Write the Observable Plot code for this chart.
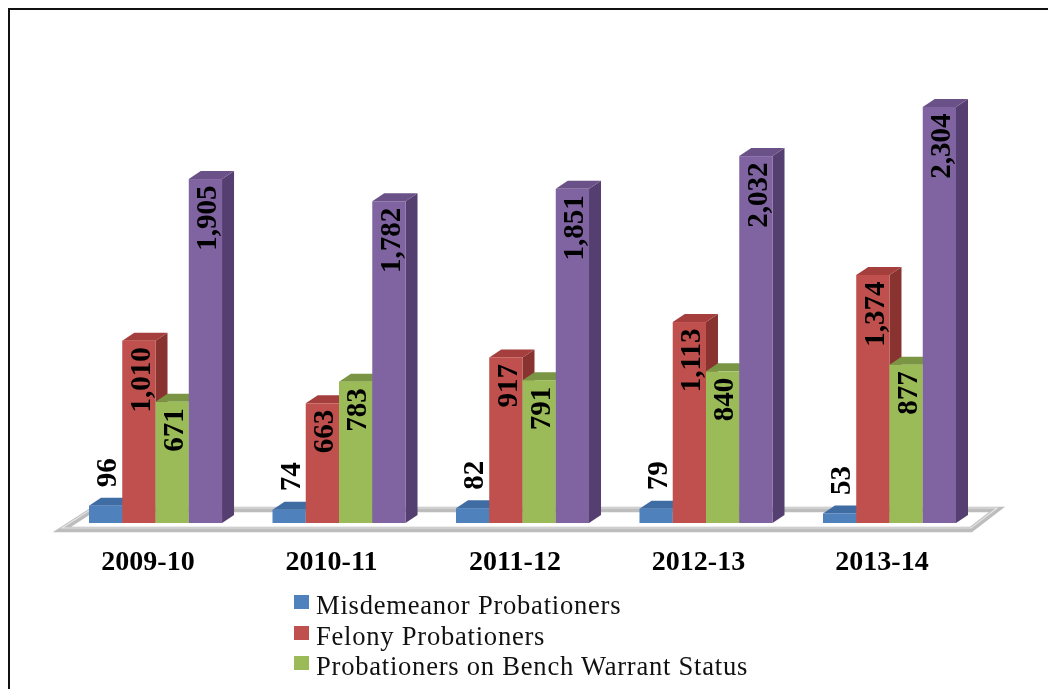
<!DOCTYPE html>
<html><head><meta charset="utf-8">
<script src="https://cdn.jsdelivr.net/npm/d3@7"></script>
<script src="https://cdn.jsdelivr.net/npm/@observablehq/plot@0.6"></script>
<style>
html,body{margin:0;padding:0;background:#fff;overflow:hidden}
#frame{position:absolute;left:8px;top:8px;width:1040px;height:681px;border-left:2px solid #111;border-top:2px solid #111;box-sizing:border-box}
#chart{position:absolute;left:0;top:0;filter:blur(.45px)}
#legend{position:absolute;left:294px;top:590px;font-family:"Liberation Serif",serif;font-size:26.6px;line-height:30.5px;color:#111;letter-spacing:.75px;filter:blur(.35px)}
#legend div{display:flex;align-items:center;white-space:nowrap}
#legend i{display:inline-block;width:15px;height:14px;margin-right:7px;position:relative;top:-3px}
</style></head><body>
<div id="frame"></div><div id="chart"></div><div id="legend"></div>
<script>
const years = ["2009-10","2010-11","2011-12","2012-13","2013-14"];
const misdemeanor = [96,74,82,79,53];
const felony = [1010,663,917,1113,1374];
const benchWarrant = [671,783,791,840,877];
const fourthSeries = [1905,1782,1851,2032,2304];
const seriesNames = ["Misdemeanor Probationers","Felony Probationers","Probationers on Bench Warrant Status"];
const colors = {front:["#4f81bd","#c0504d","#9bbb59","#8064a2"],
                top:["#3f6ca3","#a53f3d","#7a9644","#6a5288"],
                side:["#375d8c","#893331","#6a8339","#543f70"]};
const values = [misdemeanor,felony,benchWarrant,fourthSeries];

const barSpan = 0.725;           // share of a year's step taken by its four bars
const rows = values.flatMap((vals,s)=>vals.map((v,i)=>({
  s, v, year:years[i], x1:i+s*barSpan/4, x2:i+(s+1)*barSpan/4, xc:i+(s+.5)*barSpan/4
})));
const depthX = 12, depthY = 8;

function polygons(kind){
  return (index,scales,channels,dims,ctx,next)=>{
    const g = next(index,scales,channels,dims,ctx);
    d3.select(g).selectAll("rect").each(function(){
      const r=d3.select(this), x=+r.attr("x"), y=+r.attr("y"), w=+r.attr("width"), h=+r.attr("height");
      const pts = kind==="top"
        ? [[x,y],[x+depthX,y-depthY],[x+w+depthX,y-depthY],[x+w,y]]
        : [[x+w,y],[x+w+depthX,y-depthY],[x+w+depthX,y+h-depthY],[x+w,y+h]];
      const p=document.createElementNS("http://www.w3.org/2000/svg","polygon");
      p.setAttribute("points",pts.join(" "));
      p.setAttribute("fill",r.attr("fill"));
      this.replaceWith(p);
    });
    return g;
  };
}

const floor = (index,{x,y},values,dims)=>{
  const y0=y(0), x0=x(0), x1=x(4+barSpan);
  const pts=[[x0-27,y0+6.5],[x1+15,y0+6.5],[x1+41,y0-13.5],[x0+4,y0-13.5]].join(" ");
  const g=d3.create("svg:g");
  g.append("polygon").attr("points",pts).attr("fill","#fff").attr("stroke","#bdbdbd").attr("stroke-width",5.5);
  g.append("polygon").attr("points",pts).attr("fill","none").attr("stroke","#e4e4e4").attr("stroke-width",1.2).attr("transform","translate(0,-1.5)");
  return g.node();
};

const marks=[floor];
values.forEach((_,s)=>{
  const d=rows.filter(r=>r.s===s);
  const rect=(fill,extra={})=>Plot.rectY(d,{x1:"x1",x2:"x2",y:"v",fill,insetLeft:0,insetRight:0,...extra});
  marks.push(rect(colors.side[s],{render:polygons("side")}));
  marks.push(rect(colors.top[s],{render:polygons("top")}));
  marks.push(rect(colors.front[s]));
});
const label=(s,opts)=>Plot.text(rows.filter(r=>r.s===s),{x:"xc",y:"v",text:r=>d3.format(",")(r.v),rotate:-90,
  fontFamily:"Liberation Serif",fontWeight:"bold",fontSize:29,fill:"#000",lineAnchor:"middle",dx:1,...opts});
marks.push(label(0,{textAnchor:"start",dy:-19}));
[1,2,3].forEach(s=>marks.push(label(s,{textAnchor:"end",dy:6})));

const chart=Plot.plot({
  width:1048,height:585,
  marginLeft:89,marginRight:92,marginTop:107,marginBottom:62,
  style:{background:"transparent"},
  x:{domain:[0,4+barSpan],axis:null},
  y:{domain:[0,2304],axis:null},
  marks:[...marks,
    Plot.axisX({anchor:"bottom",ticks:years.map((_,i)=>i+barSpan/2),tickFormat:t=>years[Math.round(t-barSpan/2)],
      tickSize:0,tickPadding:27,dx:-8,fontFamily:"Liberation Serif",fontWeight:"bold",fontSize:28,fill:"#000",label:null})
  ]
});
document.getElementById("chart").append(chart);

const legend=d3.select("#legend");
seriesNames.forEach((n,i)=>{
  const row=legend.append("div");
  row.append("i").style("background",colors.front[i]);
  row.append("span").text(n);
});
</script></body></html>
